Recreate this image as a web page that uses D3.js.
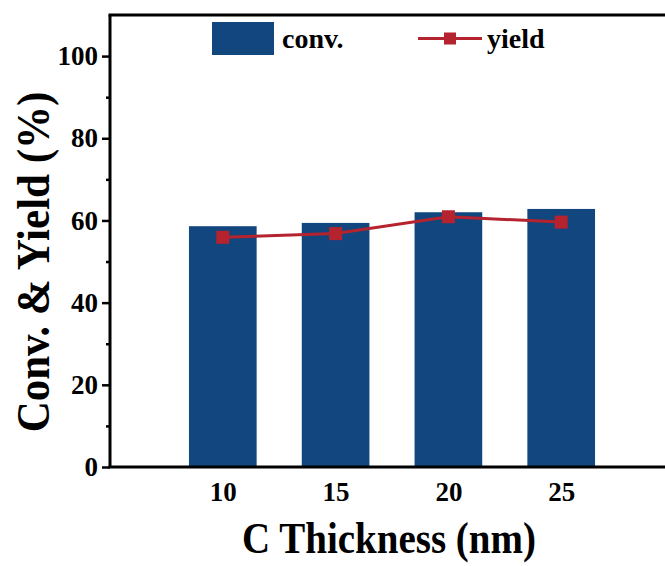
<!DOCTYPE html>
<html>
<head>
<meta charset="utf-8">
<script src="https://cdn.jsdelivr.net/npm/d3@7"></script>
<style>
body { margin: 0; background: #fff; }
text { font-family: "Liberation Serif", "Times New Roman", serif; font-weight: bold; }
</style>
</head>
<body>
<div id="chart"></div>
<script>
// data
const thickness = [10, 15, 20, 25];
const conv = [58.6, 59.4, 62.0, 62.8];
const yieldVals = [55.9, 56.8, 60.9, 59.6];
const yTicks = [0, 20, 40, 60, 80, 100];
const yMinor = [10, 30, 50, 70, 90];

const width = 665, height = 566;
const margin = { top: 15, right: -9, bottom: 99, left: 110 };
const innerW = width - margin.left - margin.right;
const innerH = height - margin.top - margin.bottom;

const barColor = "#12467e";
const lineColor = "#b5232f";

const svg = d3.select("#chart").append("svg")
  .attr("width", width)
  .attr("height", height);

const g = svg.append("g")
  .attr("transform", `translate(${margin.left},${margin.top})`);

const x = d3.scaleLinear().domain([5, 30]).range([0, innerW]);
const y = d3.scaleLinear().domain([0, 110]).range([innerH, 0]);
const barW = x(8) - x(5);

// bars
g.selectAll("rect.bar")
  .data(thickness)
  .enter().append("rect")
  .attr("class", "bar")
  .attr("x", (d) => x(d) - barW / 2)
  .attr("y", (d, i) => y(conv[i]))
  .attr("width", barW)
  .attr("height", (d, i) => innerH - y(conv[i]))
  .attr("fill", barColor);

// yield line
const line = d3.line()
  .x((d) => x(d))
  .y((d, i) => y(yieldVals[i]));

g.append("path")
  .datum(thickness)
  .attr("d", line)
  .attr("fill", "none")
  .attr("stroke", lineColor)
  .attr("stroke-width", 3);

const ms = 13;
g.selectAll("rect.marker")
  .data(thickness)
  .enter().append("rect")
  .attr("class", "marker")
  .attr("x", (d) => x(d) - ms / 2)
  .attr("y", (d, i) => y(yieldVals[i]) - ms / 2)
  .attr("width", ms)
  .attr("height", ms)
  .attr("fill", lineColor);

// y axis
const yAxis = g.append("g")
  .call(d3.axisLeft(y).tickValues(yTicks).tickSize(8).tickPadding(4));
yAxis.select(".domain").remove();
yAxis.selectAll("line").attr("stroke-width", 2.5);
yAxis.selectAll("text").style("font-size", "27px").attr("fill", "#000");

g.append("g")
  .call(d3.axisLeft(y).tickValues(yMinor).tickSize(4).tickFormat(""))
  .call((a) => a.select(".domain").remove())
  .selectAll("line").attr("stroke-width", 2.5);

// x axis (labels only)
const xAxis = g.append("g")
  .attr("transform", `translate(0,${innerH})`)
  .call(d3.axisBottom(x).tickValues(thickness).tickSize(0).tickPadding(15));
xAxis.select(".domain").remove();
xAxis.selectAll("text").style("font-size", "27px").attr("fill", "#000");

// frame
g.append("line").attr("x1", 0).attr("x2", 0).attr("y1", 0).attr("y2", innerH)
  .attr("stroke", "#000").attr("stroke-width", 3);
g.append("line").attr("x1", -1.5).attr("x2", innerW).attr("y1", innerH).attr("y2", innerH)
  .attr("stroke", "#000").attr("stroke-width", 3);
g.append("line").attr("x1", -1.5).attr("x2", innerW).attr("y1", 0).attr("y2", 0)
  .attr("stroke", "#000").attr("stroke-width", 3);

// axis titles (a bit taller than the stock font, like the original)
svg.append("text")
  .attr("transform", `translate(49,262) rotate(-90) scale(1,1.1)`)
  .attr("text-anchor", "middle")
  .style("font-size", "43px")
  .text("Conv. & Yield (%)");

svg.append("text")
  .attr("transform", `translate(389,553) scale(1,1.12)`)
  .attr("text-anchor", "middle")
  .style("font-size", "39px")
  .text("C Thickness (nm)");

// legend
const leg = svg.append("g");
leg.append("rect")
  .attr("x", 212).attr("y", 22).attr("width", 62).attr("height", 33)
  .attr("fill", barColor);
leg.append("text")
  .attr("x", 282).attr("y", 48)
  .style("font-size", "28px")
  .text("conv.");
leg.append("line")
  .attr("x1", 418).attr("x2", 482).attr("y1", 38.5).attr("y2", 38.5)
  .attr("stroke", lineColor).attr("stroke-width", 3);
leg.append("rect")
  .attr("x", 444).attr("y", 32.5).attr("width", 12).attr("height", 12)
  .attr("fill", lineColor);
leg.append("text")
  .attr("x", 487).attr("y", 48)
  .style("font-size", "28px")
  .text("yield");
</script>
</body>
</html>
